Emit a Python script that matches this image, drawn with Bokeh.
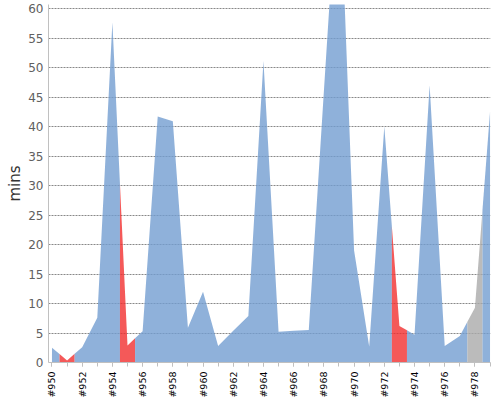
import math
from bokeh.plotting import figure
from bokeh.models import FixedTicker, CustomJSTickFormatter, Range1d
from bokeh.embed import file_html
from bokeh.resources import INLINE

# ---- data ----
builds = list(range(950, 980))
mins = [2.5, 0.35, 2.6, 7.6, 57.7, 2.9, 5.3, 41.7, 40.9, 5.9,
        12.0, 2.8, 5.4, 7.9, 51.1, 5.2, 5.4, 5.5, 46.0, 86.0,
        19.0, 2.7, 40.0, 6.2, 4.7, 47.0, 2.8, 4.5, 9.3, 42.5]
status = ["ok", "fail", "ok", "ok", "ok", "fail", "ok", "ok", "ok", "ok",
          "ok", "ok", "ok", "ok", "ok", "ok", "ok", "ok", "ok", "ok",
          "ok", "ok", "ok", "fail", "ok", "ok", "ok", "ok", "aborted", "ok"]
y_ticks = list(range(0, 61, 5))
label_ticks = builds[::2]

colors = {"ok": "#739DD1", "fail": "#F13030", "aborted": "#AAAAAA"}
FILL_ALPHA = 0.8

p = figure(width=500, height=400, output_backend="svg", toolbar_location=None,
           x_range=Range1d(949.77, 979.03), y_range=Range1d(0, 60.7),
           min_border_left=48, min_border_right=10, min_border_top=4,
           min_border_bottom=37)
p.outline_line_color = None
p.background_fill_color = "white"
p.border_fill_color = "white"

# ---- build colored area segments (runs of equal status) ----
n = len(builds)
def val_at(i, side):
    if side < 0:
        if i == 0:
            return builds[0], mins[0]
        return (builds[i] + builds[i - 1]) / 2, (mins[i] + mins[i - 1]) / 2
    if i == n - 1:
        return builds[-1], mins[-1]
    return (builds[i] + builds[i + 1]) / 2, (mins[i] + mins[i + 1]) / 2

xs_list, ys_list, cols = [], [], []
i = 0
while i < n:
    j = i
    while j + 1 < n and status[j + 1] == status[i]:
        j += 1
    xl, yl = val_at(i, -1)
    xr, yr = val_at(j, 1)
    xs = [xl, xl]
    ys = [0, yl]
    for k in range(i, j + 1):
        xs.append(builds[k]); ys.append(mins[k])
    xs += [xr, xr]
    ys += [yr, 0]
    xs_list.append(xs); ys_list.append(ys); cols.append(colors[status[i]])
    i = j + 1

p.patches(xs_list, ys_list, fill_color=cols, fill_alpha=FILL_ALPHA, line_color=None)

# ---- axes ----
xa = p.xaxis[0]
xa.ticker = FixedTicker(ticks=label_ticks, minor_ticks=builds)
xa.formatter = CustomJSTickFormatter(code="return '#' + tick.toFixed(0);")
xa.major_label_orientation = math.pi / 2
xa.major_label_text_font = "DejaVu Sans"
xa.major_label_text_font_size = "9.5px"
xa.major_label_text_color = "#000000"
xa.major_label_standoff = 5
xa.major_tick_out = 4
xa.major_tick_in = 0
xa.minor_tick_out = 4
xa.minor_tick_in = 0
xa.axis_line_color = "#C0C0C0"
xa.major_tick_line_color = "#C0C0C0"
xa.minor_tick_line_color = "#C0C0C0"

ya = p.yaxis[0]
ya.ticker = FixedTicker(ticks=y_ticks, minor_ticks=[])
ya.major_label_text_font = "DejaVu Sans"
ya.major_label_text_font_size = "12px"
ya.major_label_text_color = "#606060"
ya.major_label_standoff = 5
ya.major_tick_out = 0
ya.major_tick_in = 0
ya.axis_line_color = "#C0C0C0"
ya.axis_label = "mins"
ya.axis_label_text_font = "DejaVu Sans"
ya.axis_label_text_font_size = "15px"
ya.axis_label_text_font_style = "normal"
ya.axis_label_text_color = "#333333"
ya.axis_label_standoff = 1

p.xgrid.grid_line_color = None
p.ygrid.ticker = FixedTicker(ticks=y_ticks)
p.ygrid.grid_line_color = "#888888"
p.ygrid.grid_line_dash = "2 1"
p.ygrid.grid_line_width = 1

open("out.html", "w").write(file_html(p, INLINE))
